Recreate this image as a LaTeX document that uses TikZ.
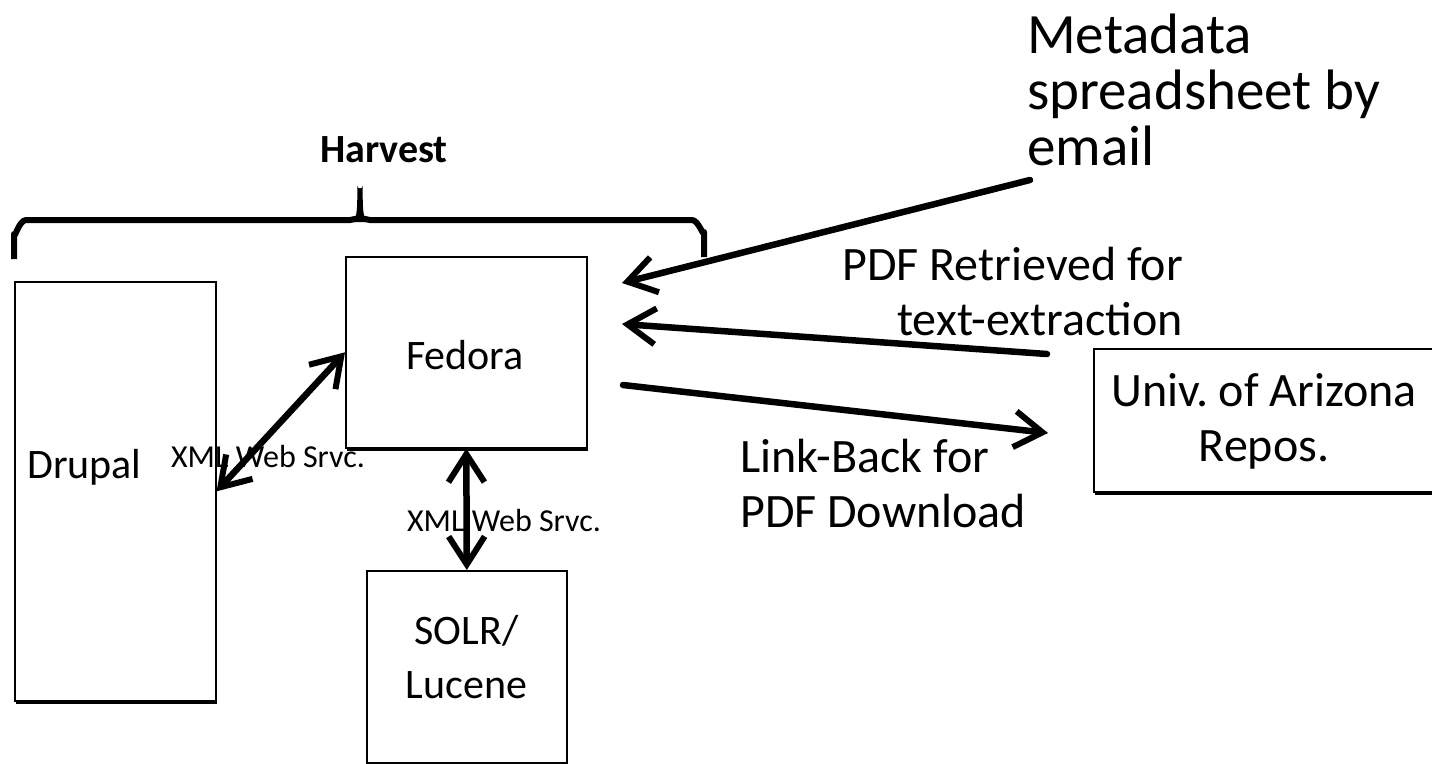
\documentclass[tikz,border=0pt]{standalone}
\usepackage{fontspec}
\setmainfont{Carlito}
\frenchspacing
\usetikzlibrary{arrows.meta,shadows}
\begin{document}
\begin{tikzpicture}[x=1pt,y=-1pt,
  box/.style={draw=black, line width=1.6pt, fill=white, inner sep=0pt,
    drop shadow={shadow xshift=1.2pt, shadow yshift=-3pt, opacity=1, fill=black}},
  boxtxt/.style={font=\fontsize{42}{54}\selectfont, align=center, inner sep=0pt},
  bigtxt/.style={font=\fontsize{48}{55}\selectfont, inner sep=0pt},
  smalltxt/.style={font=\fontsize{32}{36}\selectfont, inner sep=0pt},
  conn/.style={line width=6.5pt, line cap=round, line join=round},
  tipb/.style={-{Straight Barb[length=28pt,width=36pt,line width=6pt]}},
  dtipb/.style={{Straight Barb[length=28pt,width=36pt,line width=6pt]}-{Straight Barb[length=28pt,width=36pt,line width=6pt]}}
]
\useasboundingbox (0,0) rectangle (1432,763);

% boxes
\node[box, minimum width=201pt, minimum height=419pt, anchor=north west] (drupal) at (14,281) {};
\node[box, minimum width=241pt, minimum height=191pt, anchor=north west] (fedora) at (345,256) {};
\node[box, minimum width=200pt, minimum height=192pt, anchor=north west] (solr) at (366,570) {};
\node[box, minimum width=345pt, minimum height=143pt, anchor=north west] (univ) at (1093,348) {};

\node[boxtxt, anchor=west] (drupaltxt) at (27,467) {Drupal};
\node[boxtxt] (fedoratxt) at (465,355) {Fedora};
\node[boxtxt] (solrtxt) at (466.5,657) {SOLR/\\Lucene};
\node[bigtxt, align=center] (univtxt) at (1264,421) {Univ. of Arizona\\Repos.};

% labels
\node[font=\fontsize{40}{46}\selectfont\bfseries, inner sep=0pt] (harvest) at (384,150) {Harvest};
\node[font=\fontsize{57}{56}\selectfont, inner sep=0pt, align=left, anchor=west] (meta) at (1027,90) {Metadata\\spreadsheet by\\email};
\node[bigtxt, align=right, anchor=east] (pdfret) at (1183,292) {PDF Retrieved for\\text-extraction};
\node[bigtxt, align=left, anchor=west] (link) at (740,484) {Link-Back for\\PDF Download};
\node[smalltxt] (xml1) at (268,457) {XML Web Srvc.};
\node[smalltxt] (xml2) at (504,521) {XML Web Srvc.};

% brace
\draw[line width=6pt, line join=round] (14,259) -- (14,234) to[out=-90,in=180] (26,220) -- (350,220) to[out=0,in=180] (360,218) to[out=0,in=180] (370,220) -- (692,220) to[out=0,in=-90] (704,232) -- (704,257);
\fill (352,222) .. controls (358,219) and (357,204) .. (357.5,186) arc[start angle=180,end angle=0,radius=2.5] .. controls (363,204) and (362,219) .. (368,222) -- cycle;

% connectors
\coordinate (m1) at (1030,180);
\coordinate (m2) at (622,283);
\coordinate (p1) at (1047,354);
\coordinate (p2) at (622,324);
\coordinate (l1) at (623,385);
\coordinate (l2) at (1048,433);

\draw[conn, dtipb] (drupal.east) -- (fedora.west);
\draw[conn, dtipb] (fedora.south) -- (solr.north);
\draw[conn, tipb] (m1) -- (m2);
\draw[conn, tipb] (p1) -- (p2);
\draw[conn, tipb] (l1) -- (l2);
\end{tikzpicture}
\end{document}
